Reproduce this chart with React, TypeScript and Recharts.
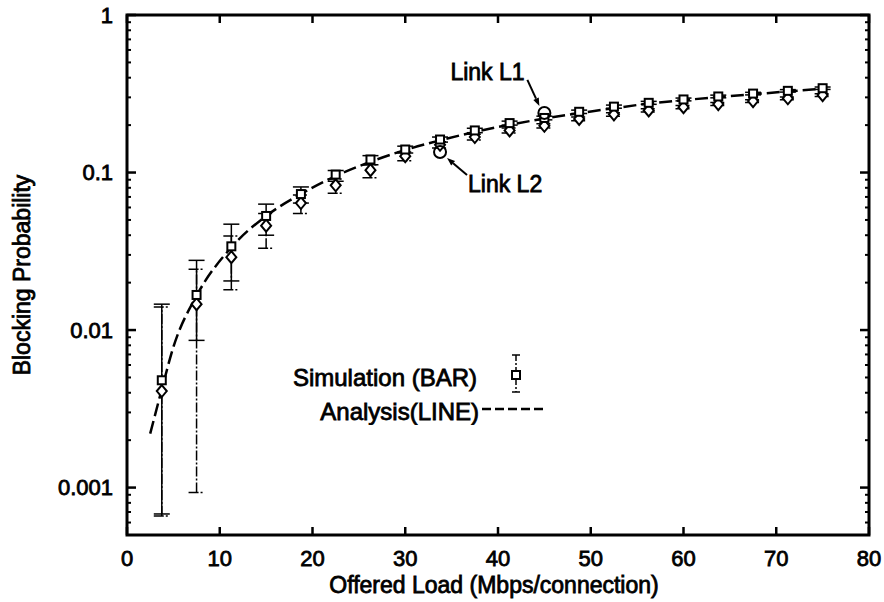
import React from 'react';
import { ComposedChart, Line, Scatter, XAxis, YAxis, ErrorBar, Legend, ReferenceArea } from 'recharts';

// simulation points (offered load, Mbps/connection)
const loads = [3.75, 7.5, 11.25, 15, 18.75, 22.5, 26.25, 30, 33.75, 37.5, 41.25, 45, 48.75, 52.5, 56.25, 60, 63.75, 67.5, 71.25, 75];

// square markers (solid error bars)
const simSquare = [0.0048, 0.0167, 0.034, 0.053, 0.073, 0.097, 0.121, 0.14, 0.162, 0.185, 0.206, 0.222, 0.243, 0.262, 0.277, 0.291, 0.304, 0.317, 0.33, 0.343];
const simSquareLow = [0.00068, 0.0086, 0.0205, 0.04, 0.064, 0.088, 0.112, 0.133, 0.156, 0.179, 0.2, 0.216, 0.237, 0.256, 0.271, 0.285, 0.298, 0.311, 0.324, 0.337];
const simSquareHigh = [0.0146, 0.0277, 0.047, 0.063, 0.081, 0.103, 0.128, 0.147, 0.168, 0.191, 0.212, 0.228, 0.249, 0.268, 0.283, 0.297, 0.31, 0.323, 0.336, 0.349];

// diamond markers (dash-dot error bars)
const simDiamond = [0.0041, 0.0146, 0.029, 0.046, 0.064, 0.083, 0.1035, 0.127, 0.15, 0.168, 0.185, 0.198, 0.219, 0.234, 0.248, 0.26, 0.272, 0.284, 0.296, 0.31];
const simDiamondLow = [0.00066, 0.00093, 0.018, 0.033, 0.055, 0.074, 0.0925, 0.119, 0.143, 0.161, 0.178, 0.192, 0.213, 0.228, 0.242, 0.254, 0.266, 0.278, 0.29, 0.304];
const simDiamondHigh = [0.014, 0.0243, 0.0395, 0.055, 0.072, 0.091, 0.112, 0.135, 0.157, 0.175, 0.192, 0.204, 0.225, 0.24, 0.254, 0.266, 0.278, 0.29, 0.302, 0.316];

// analysis curve
const analysisLoads = [2.5, 3.75, 5, 7.5, 11.25, 15, 18.75, 22.5, 26.25, 30, 33.75, 37.5, 41.25, 45, 48.75, 52.5, 56.25, 60, 63.75, 67.5, 71.25, 75];
const analysisBlocking = [0.0022, 0.0042, 0.0078, 0.0165, 0.0335, 0.053, 0.073, 0.095, 0.117, 0.139, 0.16, 0.181, 0.201, 0.22, 0.238, 0.256, 0.274, 0.288, 0.301, 0.314, 0.327, 0.34];

// annotated links
const linkNames = ['Link L1', 'Link L2'];
const linkLoads = [45, 33.75];
const linkBlocking = [0.239, 0.135];

const xTicks = [0, 10, 20, 30, 40, 50, 60, 70, 80];
const yMajorTicks = [0.001, 0.01, 0.1, 1];
const yTickLabels = ['0.001', '0.01', '0.1', '1'];
const yMinorTicks = [
  0.0005, 0.0006, 0.0007, 0.0008, 0.0009,
  0.002, 0.003, 0.004, 0.005, 0.006, 0.007, 0.008, 0.009,
  0.02, 0.03, 0.04, 0.05, 0.06, 0.07, 0.08, 0.09,
  0.2, 0.3, 0.4, 0.5, 0.6, 0.7, 0.8, 0.9,
];
const yTicks = [...yMinorTicks, ...yMajorTicks].sort((a, b) => a - b);

const legendLabels = ['Simulation (BAR)', 'Analysis(LINE)'];

const FONT = '"Liberation Sans", Arial, Helvetica, sans-serif';
const X_DOMAIN = [0, 80];
const Y_DOMAIN = [0.0005, 1];
const GAP = 14;

const squareData = loads.map((x, i) => ({
  load: x,
  p: simSquare[i],
  err: [simSquare[i] - simSquareLow[i], simSquareHigh[i] - simSquare[i]],
}));
const diamondData = loads.map((x, i) => ({
  load: x,
  p: simDiamond[i],
  err: [simDiamond[i] - simDiamondLow[i], simDiamondHigh[i] - simDiamond[i]],
}));
const analysisData = analysisLoads.map((x, i) => ({ load: x, p: analysisBlocking[i] }));
const linkData = linkLoads.map((x, i) => ({ load: x, p: linkBlocking[i], name: linkNames[i] }));

// label / arrow offsets (px) relative to the circled point
const linkNotes: Record<string, { tx: number; ty: number; ax1: number; ay1: number; ax2: number; ay2: number }> = {
  'Link L1': { tx: -94, ty: -41, ax1: -17, ay1: -33, ax2: -5, ay2: -7 },
  'Link L2': { tx: 28, ty: 32, ax1: 27, ay1: 23, ax2: 7, ay2: 6 },
};

const textStyle = { fontFamily: FONT, fill: '#000', stroke: '#000', strokeWidth: 0.8 };

const SquareMark = (props: any) => {
  const { cx, cy } = props;
  return <rect x={cx - 4} y={cy - 4} width={8} height={8} fill="#fff" stroke="#000" strokeWidth={2} />;
};

const DiamondMark = (props: any) => {
  const { cx, cy } = props;
  return (
    <path d={`M${cx},${cy - 6} L${cx + 5},${cy} L${cx},${cy + 6} L${cx - 5},${cy} Z`} fill="#fff" stroke="#000" strokeWidth={2} />
  );
};

const NoMark = () => <g />;

const LinkMark = (props: any) => {
  const { cx, cy, payload } = props;
  const n = linkNotes[payload.name];
  const x1 = cx + n.ax1, y1 = cy + n.ay1, x2 = cx + n.ax2, y2 = cy + n.ay2;
  const len = Math.hypot(x2 - x1, y2 - y1);
  const ux = (x2 - x1) / len, uy = (y2 - y1) / len;
  const bx = x2 - ux * 8, by = y2 - uy * 8;
  return (
    <g>
      <circle cx={cx} cy={cy} r={6} fill="none" stroke="#000" strokeWidth={2} />
      <line x1={x1} y1={y1} x2={bx} y2={by} stroke="#000" strokeWidth={2} />
      <path d={`M${x2},${y2} L${bx - uy * 3},${by + ux * 3} L${bx + uy * 3},${by - ux * 3} Z`} fill="#000" />
      <text x={cx + n.tx} y={cy + n.ty} dy="0.36em" fontSize={23} {...textStyle}>{payload.name}</text>
    </g>
  );
};

// inward ticks, drawn by the axes' own tick renderers
function BottomTick(props: any) {
  const { x, y, payload } = props;
  const axisY = y - GAP;
  return (
    <g>
      <path d={`M${x},${axisY}V${axisY - 8}`} stroke="#000" strokeWidth={2.5} fill="none" />
      <text x={x} y={y} dy="0.78em" textAnchor="middle" fontSize={22} {...textStyle}>{payload.value}</text>
    </g>
  );
}

function TopTick(props: any) {
  const { x, y } = props;
  return <path d={`M${x},${y}V${y + 8}`} stroke="#000" strokeWidth={2.5} fill="none" />;
}

function LeftTick(props: any) {
  const { x, y, payload } = props;
  const axisX = x + GAP;
  const idx = yMajorTicks.indexOf(payload.value);
  const major = idx >= 0;
  return (
    <g>
      <path d={`M${axisX},${y}H${axisX + (major ? 9 : 4)}`} stroke="#000" strokeWidth={major ? 2.5 : 2} fill="none" />
      {major && (
        <text x={x} y={y} dy="0.36em" textAnchor="end" fontSize={22} {...textStyle}>{yTickLabels[idx]}</text>
      )}
    </g>
  );
}

function RightTick(props: any) {
  const { x, y, payload } = props;
  const major = yMajorTicks.indexOf(payload.value) >= 0;
  return <path d={`M${x},${y}H${x - (major ? 9 : 4)}`} stroke="#000" strokeWidth={major ? 2.5 : 2} fill="none" />;
}

const renderLegend = () => (
  <svg width={300} height={80}>
    <text x={197} y={32} dy="0.36em" textAnchor="end" fontSize={24} {...textStyle}>{legendLabels[0]}</text>
    <line x1={236} x2={236} y1={10} y2={47} stroke="#000" strokeWidth={1.5} strokeDasharray="6 2 2 2" />
    <line x1={232} x2={240} y1={10} y2={10} stroke="#000" strokeWidth={1.5} />
    <line x1={232} x2={240} y1={47} y2={47} stroke="#000" strokeWidth={1.5} />
    <rect x={232} y={26} width={8} height={8} fill="#fff" stroke="#000" strokeWidth={2} />
    <text x={199} y={66} dy="0.36em" textAnchor="end" fontSize={24} {...textStyle}>{legendLabels[1]}</text>
    <line x1={202} x2={267} y1={64} y2={64} stroke="#000" strokeWidth={2.5} strokeDasharray="9 4" />
  </svg>
);

export default function App() {
  return (
    <div style={{ position: 'absolute', left: 0, top: 0, background: '#fff' }}>
      <ComposedChart width={884} height={602} margin={{ top: 14, right: 14, bottom: 0, left: 0 }}>
        <XAxis
          xAxisId="b"
          dataKey="load"
          type="number"
          domain={X_DOMAIN}
          ticks={xTicks}
          interval={0}
          allowDataOverflow
          height={67}
          tickSize={0}
          tickMargin={GAP}
          tick={BottomTick}
          axisLine={false}
          tickLine={false}
          label={{
            content: ({ viewBox }: any) => (
              <text x={viewBox.x + viewBox.width / 2 - 4} y={viewBox.y + 50} dy="0.36em" textAnchor="middle" fontSize={23} {...textStyle}>
                Offered Load (Mbps/connection)
              </text>
            ),
          }}
        />
        <XAxis
          xAxisId="t"
          orientation="top"
          dataKey="load"
          type="number"
          domain={X_DOMAIN}
          ticks={xTicks}
          interval={0}
          allowDataOverflow
          height={1}
          tickSize={0}
          tickMargin={0}
          tick={TopTick}
          axisLine={false}
          tickLine={false}
        />
        <YAxis
          yAxisId="l"
          dataKey="p"
          type="number"
          scale="log"
          domain={Y_DOMAIN}
          ticks={yTicks}
          interval={0}
          allowDataOverflow
          width={127}
          tickSize={0}
          tickMargin={GAP}
          tick={LeftTick}
          axisLine={false}
          tickLine={false}
          label={{
            content: () => (
              <text x={22} y={275} dy="0.36em" textAnchor="middle" transform="rotate(-90, 22, 275)" fontSize={23} {...textStyle}>
                Blocking Probability
              </text>
            ),
          }}
        />
        <YAxis
          yAxisId="r"
          orientation="right"
          dataKey="p"
          type="number"
          scale="log"
          domain={Y_DOMAIN}
          ticks={yTicks}
          interval={0}
          allowDataOverflow
          width={1}
          tickSize={0}
          tickMargin={0}
          tick={RightTick}
          axisLine={false}
          tickLine={false}
        />
        <Legend
          layout="horizontal"
          align="center"
          verticalAlign="middle"
          content={renderLegend}
          wrapperStyle={{ left: 280, top: 345, width: 300, height: 80 }}
        />
        {/* plot frame */}
        <ReferenceArea
          xAxisId="b"
          yAxisId="l"
          x1={X_DOMAIN[0]}
          x2={X_DOMAIN[1]}
          y1={Y_DOMAIN[0]}
          y2={Y_DOMAIN[1]}
          fill="none"
          fillOpacity={0}
          stroke="#000"
          strokeWidth={3}
          ifOverflow="visible"
        />
        {/* invisible series so the top / right tick axes get drawn */}
        <Scatter xAxisId="t" yAxisId="r" data={analysisData} dataKey="p" shape={<NoMark />} isAnimationActive={false} legendType="none" />
        <Line
          xAxisId="b"
          yAxisId="l"
          data={analysisData}
          dataKey="p"
          type="monotone"
          stroke="#000"
          strokeWidth={2.5}
          strokeDasharray="13 5"
          dot={false}
          isAnimationActive={false}
          legendType="none"
        />
        <Scatter xAxisId="b" yAxisId="l" data={diamondData} dataKey="p" shape={<DiamondMark />} isAnimationActive={false} legendType="none">
          <ErrorBar dataKey="err" direction="y" width={8} stroke="#000" strokeWidth={1.5} strokeDasharray="10 2 2 2" isAnimationActive={false} />
        </Scatter>
        <Scatter xAxisId="b" yAxisId="l" data={squareData} dataKey="p" shape={<SquareMark />} isAnimationActive={false} legendType="none">
          <ErrorBar dataKey="err" direction="y" width={8} stroke="#000" strokeWidth={1.5} isAnimationActive={false} />
        </Scatter>
        <Scatter xAxisId="b" yAxisId="l" data={linkData} dataKey="p" shape={<LinkMark />} isAnimationActive={false} legendType="none" />
      </ComposedChart>
    </div>
  );
}
